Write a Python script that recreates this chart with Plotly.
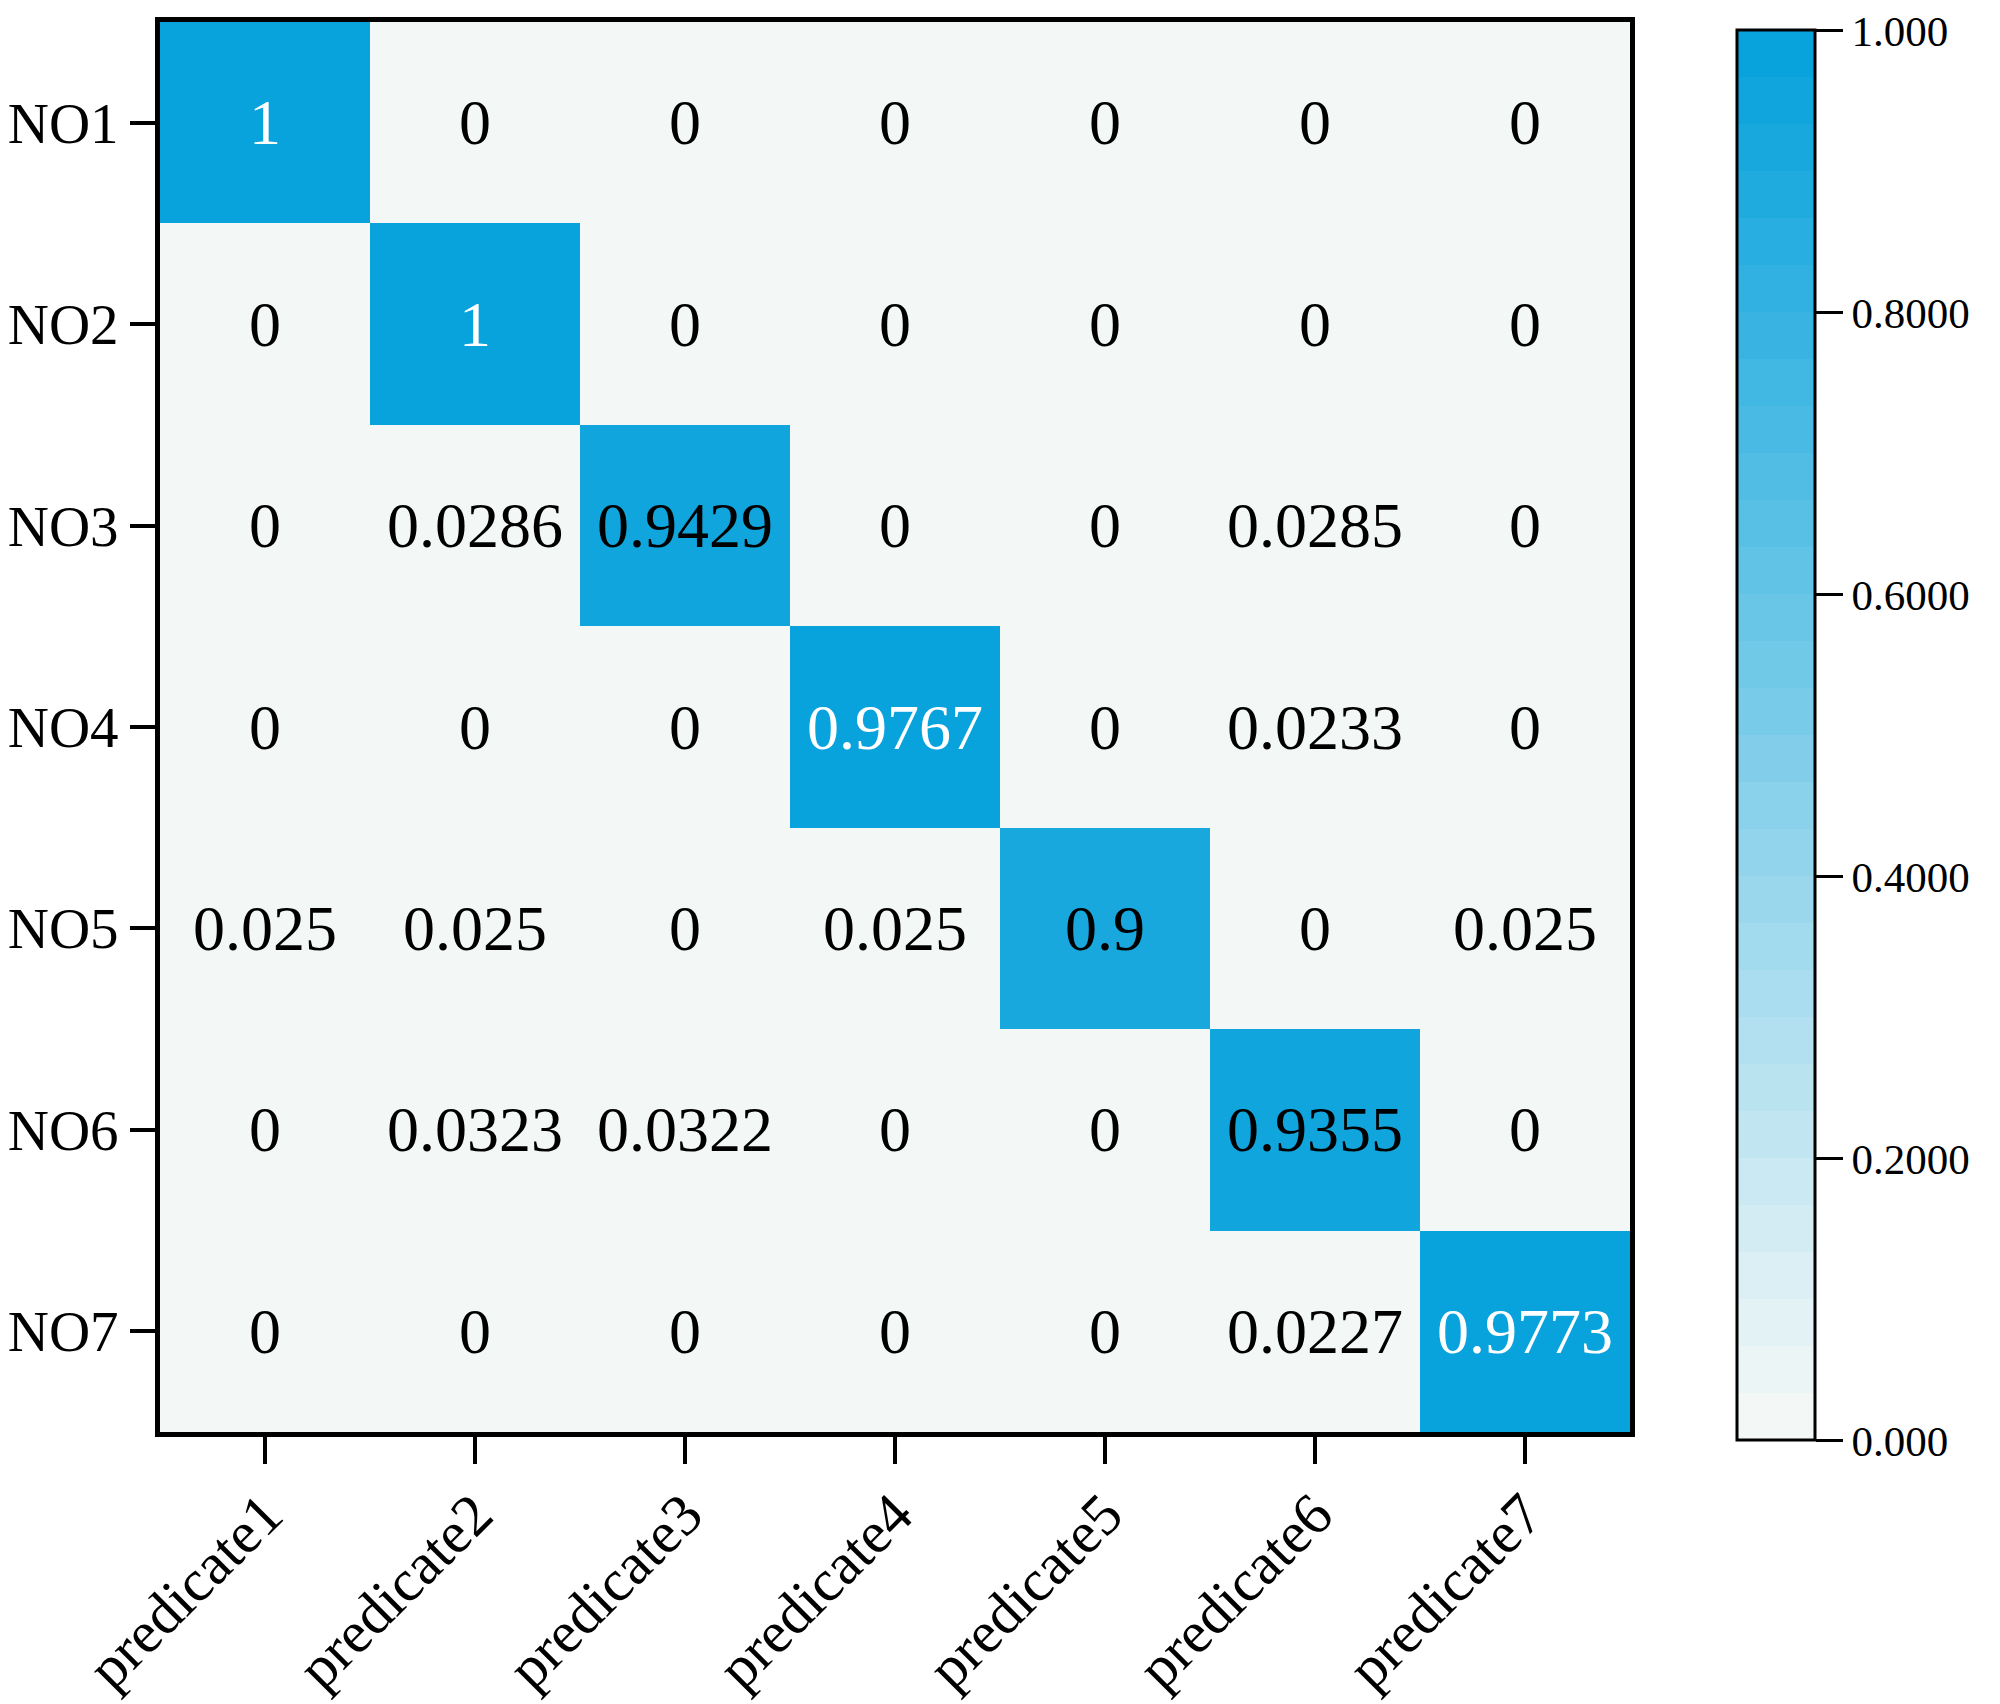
import plotly.graph_objects as go

# ---- data ----
true_labels = ["NO1", "NO2", "NO3", "NO4", "NO5", "NO6", "NO7"]
pred_labels = ["predicate1", "predicate2", "predicate3", "predicate4",
               "predicate5", "predicate6", "predicate7"]
row_NO1 = [1, 0, 0, 0, 0, 0, 0]
row_NO2 = [0, 1, 0, 0, 0, 0, 0]
row_NO3 = [0, 0.0286, 0.9429, 0, 0, 0.0285, 0]
row_NO4 = [0, 0, 0, 0.9767, 0, 0.0233, 0]
row_NO5 = [0.025, 0.025, 0, 0.025, 0.9, 0, 0.025]
row_NO6 = [0, 0.0323, 0.0322, 0, 0, 0.9355, 0]
row_NO7 = [0, 0, 0, 0, 0, 0.0227, 0.9773]
matrix = [row_NO1, row_NO2, row_NO3, row_NO4, row_NO5, row_NO6, row_NO7]

cbar_tickvals = [0.0, 0.2, 0.4, 0.6, 0.8, 1.0]
cbar_ticktext = ["0.000", "0.2000", "0.4000", "0.6000", "0.8000", "1.000"]

# ---- style ----
FONT = "Liberation Serif"
low = (243, 248, 247)
high = (8, 162, 220)
N = 30
colorscale = []
for i in range(N):
    t = i / (N - 1)
    c = tuple(round(low[k] + (high[k] - low[k]) * t) for k in range(3))
    col = f"rgb({c[0]},{c[1]},{c[2]})"
    colorscale.append([i / N, col])
    colorscale.append([(i + 1) / N, col])

fig = go.Figure()
fig.add_trace(go.Heatmap(
    z=matrix, x=pred_labels, y=true_labels,
    zmin=0, zmax=1, colorscale=colorscale, xgap=0, ygap=0,
    hoverinfo="skip",
    colorbar=dict(
        x=1.0728, xanchor="left", xref="paper",
        y=0.494, yanchor="middle", lenmode="pixels", len=1410,
        thickness=78, thicknessmode="pixels",
        outlinewidth=3, outlinecolor="black",
        tickmode="array", tickvals=cbar_tickvals, ticktext=cbar_ticktext,
        ticks="outside", ticklen=27, tickwidth=3, tickcolor="black",
        ticklabeloverflow="allow",
        tickfont=dict(family=FONT, size=43, color="black"),
        ypad=0, xpad=0,
    ),
))

annotations = []
for r, lab in enumerate(true_labels):
    for c, plab in enumerate(pred_labels):
        v = matrix[r][c]
        annotations.append(dict(
            x=plab, y=lab, text=f"{v:g}", showarrow=False,
            font=dict(family=FONT, size=64,
                      color="white" if v > 0.95 else "black"),
        ))

fig.update_layout(
    width=2000, height=1704,
    margin=dict(l=152, r=378, t=14, b=280),
    paper_bgcolor="white", plot_bgcolor="white",
    annotations=annotations,
    xaxis=dict(
        automargin=False,
        showline=True, linewidth=5, linecolor="black", mirror=True,
        ticks="outside", ticklen=27, tickwidth=4, tickcolor="black",
        tickangle=-45, ticklabelstandoff=-8,
        tickfont=dict(family=FONT, size=59, color="black"),
        showgrid=False, zeroline=False,
    ),
    yaxis=dict(
        automargin=False,
        autorange="reversed",
        showline=True, linewidth=5, linecolor="black", mirror=True,
        ticks="outside", ticklen=25, tickwidth=4, tickcolor="black",
        tickfont=dict(family=FONT, size=57, color="black"),
        showgrid=False, zeroline=False,
    ),
)

fig.write_html("out.html")
